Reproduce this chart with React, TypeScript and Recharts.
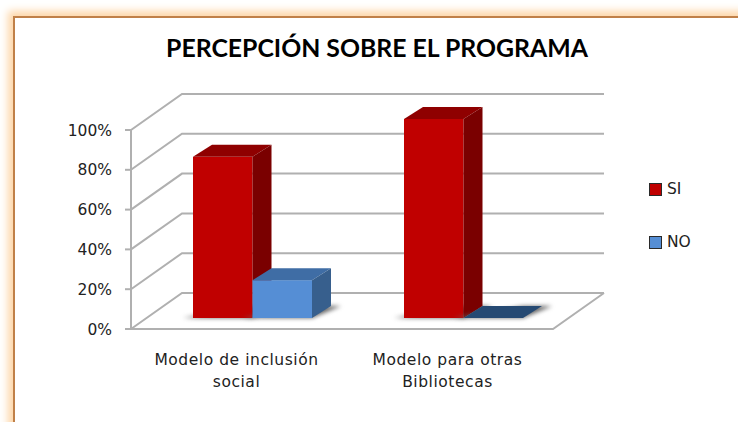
/**
 * Percepción sobre el programa
 * Grouped 3D-look bar chart, Excel style
 */

import { BarChart, Bar, XAxis, YAxis, CartesianGrid, Legend } from 'recharts'

const categories = ['Modelo de inclusión social', 'Modelo para otras Bibliotecas']
const categoryLines = [
  ['Modelo de inclusión', 'social'],
  ['Modelo para otras', 'Bibliotecas'],
]
const siValues = [0.81, 1]
const noValues = [0.19, 0]
const yTicks = [0, 0.2, 0.4, 0.6, 0.8, 1]

const chartData = categories.map((category, i) => ({
  category,
  SI: siValues[i],
  NO: noValues[i],
}))

const COLORS = {
  SI: { front: '#c00000', top: '#8f0000', side: '#7a0000' },
  NO: { front: '#558ed5', top: '#3f6da5', side: '#375f8d', flat: '#264a73' },
}

const GRID = '#b0b0b0'
const TEXT = '#222222'
const FONT = '"DejaVu Sans", sans-serif'
const FONT_SIZE = 15.5

// wall depth and bar depth, in px
const WALL_DX = 51
const WALL_DY = 36
const BAR_SHIFT_X = 16
const BAR_SHIFT_Y = 11
const BAR_DX = 19
const BAR_DY = 12

function GridLine(props: any) {
  const { x1, x2, y1, index } = props
  const bx1 = x1 + WALL_DX
  const bx2 = x2 + WALL_DX
  const by = y1 - WALL_DY
  const isFloor = Math.abs(y1 - 329) < 1
  return (
    <g key={`grid-${index}-${y1}`} fill="none" stroke={GRID} strokeWidth={2}>
      <polyline points={`${x1},${y1} ${bx1},${by} ${bx2},${by}`} />
      {isFloor && <polyline points={`${x1},${y1} ${x2},${y1} ${bx2},${by}`} />}
    </g>
  )
}

function Bar3D(props: any) {
  const { x, y, width, height, colors } = props
  const left = x + BAR_SHIFT_X
  const right = left + width
  const top = y - BAR_SHIFT_Y
  const bottom = top + height
  const flat = height < 1
  return (
    <g>
      <polygon
        points={`${left - 10},${bottom} ${right},${bottom} ${right + BAR_DX + 10},${bottom - BAR_DY} ${right},${bottom - BAR_DY}`}
        fill="#666666"
        style={{ filter: 'blur(2px)' }}
      />
      {!flat && <rect x={left} y={top} width={width} height={height} fill={colors.front} />}
      <polygon
        points={`${left},${top} ${right},${top} ${right + BAR_DX},${top - BAR_DY} ${left + BAR_DX},${top - BAR_DY}`}
        fill={flat ? colors.flat : colors.top}
      />
      {!flat && (
        <polygon
          points={`${right},${top} ${right + BAR_DX},${top - BAR_DY} ${right + BAR_DX},${bottom - BAR_DY} ${right},${bottom}`}
          fill={colors.side}
        />
      )}
    </g>
  )
}

function CategoryTick(props: any) {
  const { x, y, index } = props
  return (
    <text
      x={x}
      y={y}
      textAnchor="middle"
      fontSize={FONT_SIZE}
      letterSpacing={0.55}
      fontFamily={FONT}
      fill={TEXT}
    >
      {categoryLines[index].map((line, i) => (
        <tspan key={line} x={x} y={y + 28 + i * 22}>
          {line}
        </tspan>
      ))}
    </text>
  )
}

function LegendBox() {
  const items = [
    { name: 'SI', colors: COLORS.SI },
    { name: 'NO', colors: COLORS.NO },
  ]
  return (
    <div>
      {items.map((item) => (
        <div
          key={item.name}
          style={{ display: 'flex', alignItems: 'center', height: 20, marginBottom: 33 }}
        >
          <div
            style={{
              width: 11,
              height: 11,
              background: item.colors.front,
              border: '1.5px solid #2a2a2a',
              marginRight: 5,
            }}
          />
          <span style={{ fontFamily: FONT, fontSize: FONT_SIZE, color: TEXT }}>{item.name}</span>
        </div>
      ))}
    </div>
  )
}

export default function App() {
  return (
    <div
      style={{
        position: 'fixed',
        left: 0,
        top: 0,
        width: 738,
        height: 422,
        overflow: 'hidden',
        background: '#ffffff',
      }}
    >
      <div
        style={{
          position: 'absolute',
          left: 13,
          top: 16,
          width: 800,
          height: 500,
          background: '#ffffff',
          border: '2px solid #c08048',
          boxShadow: '0 0 8px 5px #fdd6a8',
        }}
      />
      <div style={{ position: 'absolute', left: 0, top: 0 }}>
        <BarChart
          width={738}
          height={422}
          data={chartData}
          margin={{ top: 130, right: 105, left: 71, bottom: 33 }}
          barGap={0}
          barSize={59.5}
        >
          <CartesianGrid vertical={false} horizontal={GridLine} />
          <XAxis
            dataKey="category"
            axisLine={{ stroke: GRID, strokeWidth: 2 }}
            tickLine={false}
            tick={CategoryTick}
            interval={0}
            height={60}
          />
          <YAxis
            width={60}
            domain={[0, 1]}
            ticks={yTicks}
            tickFormatter={(v: number) => `${Math.round(v * 100)}%`}
            axisLine={{ stroke: GRID, strokeWidth: 2 }}
            tickLine={{ stroke: GRID, strokeWidth: 2 }}
            tickSize={6}
            tickMargin={13}
            tick={{ fontSize: FONT_SIZE, fontFamily: FONT, fill: TEXT }}
          />
          <Legend
            layout="vertical"
            align="right"
            verticalAlign="middle"
            content={LegendBox}
            wrapperStyle={{ position: 'absolute', left: 649, top: 179, width: 80, height: 100 }}
          />
          <Bar
            dataKey="SI"
            isAnimationActive={false}
            shape={(p: any) => <Bar3D {...p} colors={COLORS.SI} />}
          />
          <Bar
            dataKey="NO"
            isAnimationActive={false}
            shape={(p: any) => <Bar3D {...p} colors={COLORS.NO} />}
          />
          <text
            x={377}
            y={57}
            textAnchor="middle"
            fontSize={24.8}
            fontWeight={700}
            fontFamily={'Lato, sans-serif'}
            fill="#000000"
          >
            PERCEPCIÓN SOBRE EL PROGRAMA
          </text>
        </BarChart>
      </div>
    </div>
  )
}
